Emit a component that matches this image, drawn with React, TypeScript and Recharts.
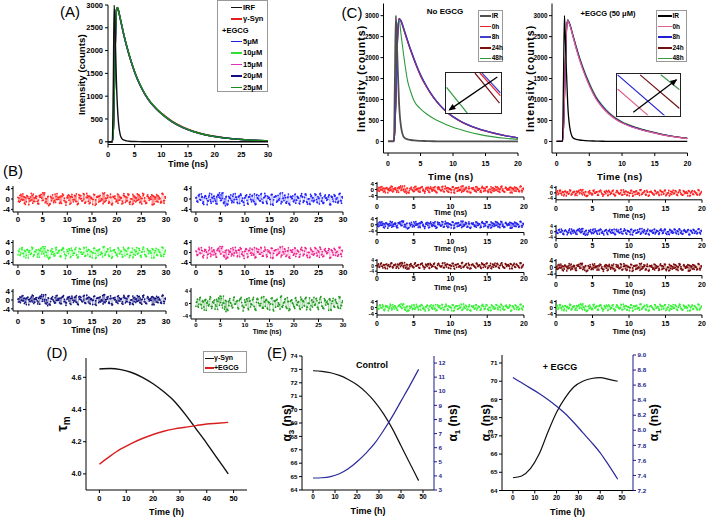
import React from 'react';
import { LineChart, Line, XAxis, YAxis, Label } from 'recharts';

const SANS = '"Liberation Sans", Arial, sans-serif';
const NARROW = '"Liberation Sans Narrow", "Liberation Sans", Arial, sans-serif';

// ---- (A) decay curves, time in ns ----
const tA = [0, 0.8, 1.0, 1.15, 1.3, 1.45, 1.6, 1.8, 2.0, 2.3, 2.6, 3, 3.5, 4, 5, 6, 7, 8, 9, 10, 12, 14, 16, 18, 20, 22, 25, 28, 30];
const irfA = [0, 0, 1300, 3000, 2600, 1900, 1250, 700, 380, 150, 70, 35, 20, 12, 6, 3, 0, 0, 0, 0, 0, 0, 0, 0, 0, 0, 0, 0, 0];
const synA = [0, 0, 250, 900, 1800, 2500, 2900, 2940, 2860, 2700, 2540, 2330, 2100, 1890, 1530, 1250, 1030, 860, 730, 632, 452, 325, 233, 166, 120, 85, 52, 31, 23];
const egcg5 = [0, 0, 240, 880, 1780, 2490, 2890, 2935, 2855, 2695, 2530, 2320, 2090, 1880, 1520, 1240, 1025, 855, 725, 615, 437, 312, 222, 158, 113, 80, 49, 30, 21];
const egcg10 = [0, 0, 260, 910, 1810, 2510, 2905, 2945, 2865, 2705, 2545, 2335, 2105, 1895, 1535, 1255, 1035, 865, 735, 622, 442, 317, 226, 161, 116, 83, 51, 31, 22];
const egcg15 = [0, 0, 245, 890, 1790, 2495, 2895, 2938, 2858, 2698, 2535, 2325, 2095, 1885, 1525, 1245, 1028, 858, 728, 618, 438, 313, 224, 159, 114, 81, 50, 30, 21];
const egcg20 = [0, 0, 255, 905, 1805, 2505, 2902, 2942, 2862, 2702, 2542, 2332, 2102, 1892, 1532, 1252, 1032, 862, 732, 620, 440, 315, 225, 160, 115, 82, 50, 30, 22];
const egcg25 = [0, 0, 265, 920, 1820, 2515, 2910, 2948, 2868, 2708, 2548, 2338, 2108, 1898, 1538, 1258, 1037, 866, 735, 623, 442, 316, 225, 160, 114, 81, 49, 29, 21];

// ---- (C) decay curves, time in ns ----
const tC = [0, 0.9, 1.05, 1.2, 1.35, 1.5, 1.7, 2.0, 2.5, 3, 3.5, 4, 5, 6, 7, 8, 9, 10, 11, 12, 14, 16, 18, 20];
const irC = [0, 0, 1400, 3000, 2400, 1700, 900, 350, 90, 50, 35, 25, 15, 10, 5, 3, 0, 0, 0, 0, 0, 0, 0, 0];
const noE0 = [0, 0, 300, 1000, 1900, 2600, 2930, 2870, 2640, 2400, 2170, 1960, 1580, 1290, 1050, 860, 710, 590, 495, 415, 295, 210, 140, 85];
const noE8 = [0, 0, 290, 980, 1880, 2590, 2925, 2880, 2655, 2415, 2185, 1975, 1595, 1300, 1060, 868, 716, 596, 500, 419, 298, 212, 142, 86];
const noE24 = [0, 0, 310, 1010, 1910, 2610, 2935, 2860, 2630, 2390, 2160, 1950, 1570, 1282, 1044, 855, 705, 586, 492, 412, 293, 208, 139, 84];
const noE48 = [0, 0, 300, 1000, 1900, 2600, 2900, 2550, 1950, 1450, 1180, 970, 780, 650, 550, 470, 400, 340, 290, 245, 170, 115, 75, 50];
const wE0 = [0, 0, 300, 1000, 1900, 2600, 2880, 2780, 2500, 2210, 1950, 1720, 1330, 1020, 810, 650, 530, 440, 375, 320, 235, 165, 110, 70];
const wE8 = [0, 0, 290, 990, 1890, 2590, 2890, 2795, 2520, 2235, 1975, 1745, 1355, 1040, 828, 665, 543, 452, 385, 329, 241, 170, 113, 72];
const wE24 = [0, 0, 310, 1010, 1910, 2610, 2895, 2800, 2525, 2240, 1980, 1750, 1360, 1045, 832, 668, 546, 454, 387, 331, 243, 171, 114, 73];
const wE48 = [0, 0, 300, 1000, 1900, 2600, 2905, 2815, 2550, 2270, 2015, 1790, 1400, 1080, 862, 694, 568, 473, 404, 346, 254, 179, 119, 76];

// inset zoom of the C curves (unit box)
const insLeft = {
  h48: [{ x: 0.01, y: 0.64 }, { x: 0.39, y: 0 }],
  h24: [{ x: 0.53, y: 1 }, { x: 0.98, y: 0.25 }],
  h0: [{ x: 0.62, y: 1 }, { x: 1, y: 0.43 }],
  h8: [{ x: 0.66, y: 1 }, { x: 1, y: 0.5 }],
  arrow: [{ x: 0.94, y: 0.9 }, { x: 0.06, y: 0.08 }],
};
const insRight = {
  h0: [{ x: 0.01, y: 0.64 }, { x: 0.5, y: 0 }],
  h8: [{ x: 0.01, y: 0.98 }, { x: 0.76, y: 0 }],
  h24: [{ x: 0.37, y: 0.98 }, { x: 1, y: 0.17 }],
  h48: [{ x: 0.7, y: 0.98 }, { x: 1, y: 0.62 }],
  arrow: [{ x: 0.26, y: 0.08 }, { x: 0.95, y: 0.86 }],
};

// ---- weighted residuals (read by eye) ----
const noiseA = [0.6, -1.2, 1.8, -0.4, 0.9, -2.1, 1.3, 0.2, -0.8, 2.2, -1.6, 0.4, 1.1, -0.9, -1.9, 1.5, 0.3, -0.5, 2.4, -1.1,
  0.8, -2.3, 1.0, 0.1, -1.4, 1.9, -0.2, 0.7, -1.7, 1.2, 2.0, -0.6, -1.3, 0.5, 1.6, -2.0, 0.9, -0.3, 1.4, -1.0,
  -2.2, 1.7, 0.0, -0.7, 2.1, -1.5, 0.6, 1.3, -1.8, 0.4, -0.1, 1.8, -2.4, 0.8, 1.1, -0.9, -0.4, 2.3, -1.2, 0.3,
  1.5, -1.6, 0.7, -2.0, 1.0, 0.2, -1.1, 1.9, -0.5, 0.6, -1.9, 1.4, 0.9, -0.8, 2.0, -1.3, 0.1, -2.1, 1.2, 0.5,
  -0.6, 1.7, -1.4, 0.3, 2.2, -0.9, -1.7, 1.1, 0.4, -0.2, 1.6, -2.2, 0.8, -1.0, 1.3, 0.0, -1.5, 2.1, -0.7, 0.9];
const noiseB = [-0.9, 1.4, -0.2, 2.0, -1.6, 0.5, 1.1, -2.2, 0.8, -0.3, 1.9, -1.0, 0.2, -1.8, 1.3, 0.7, -0.6, 2.3, -1.4, 0.1,
  1.0, -2.0, 0.6, 1.6, -0.8, -1.3, 2.1, -0.1, 0.9, -1.7, 1.5, 0.3, -2.4, 1.2, -0.5, 0.8, 1.8, -1.1, -0.4, 2.0,
  -1.9, 0.4, 1.3, -0.7, 0.0, -1.5, 2.2, -0.9, 1.1, 0.6, -2.1, 1.7, -0.3, 0.9, -1.2, 1.4, 0.2, -1.8, 2.4, -0.6,
  0.5, -1.0, 1.9, -2.3, 0.7, 1.2, -0.4, -1.6, 1.0, 0.3, -0.8, 2.1, -1.3, 0.6, 1.5, -2.0, 0.1, 1.8, -0.7, -1.1,
  2.0, -0.2, 0.9, -1.9, 1.3, 0.4, -1.4, 1.6, -0.5, 0.8, -2.2, 1.1, 0.0, 1.7, -1.2, 0.5, -0.9, 2.2, -1.6, 0.3];
const noiseC = [0.4, -0.8, 1.2, -0.3, 0.7, -1.1, 0.9, 0.2, -0.6, 1.4, -0.9, 0.5, 1.0, -0.4, 0.8, 1.8, 2.4, 1.6, 0.2, -1.8,
  -2.6, -1.9, -0.7, 0.3, -0.5, 1.1, -0.2, 0.6, -1.3, 0.9, 1.5, -0.8, -1.2, 0.4, 1.3, -1.6, 0.7, -0.1, 1.2, -0.9,
  -1.7, 1.4, 0.2, -0.6, 1.8, -1.2, 0.5, 1.0, -1.5, 0.3, -0.2, 1.6, -2.0, 0.7, 1.1, -0.8, -0.3, 2.0, -1.0, 0.2,
  1.3, -1.4, 0.6, -1.7, 0.9, 0.1, -0.9, 1.7, -0.4, 0.5, -1.6, 1.2, 0.8, -0.7, 1.8, -1.1, 0.0, -1.8, 1.0, 0.4,
  -0.5, 1.5, -1.2, 0.2, 1.9, -0.8, -1.5, 0.9, 0.3, -0.1, 1.4, -1.9, 0.7, -0.9, 1.1, 0.1, -1.3, 1.8, -0.6, 0.8];

// ---- (D) mean lifetime vs incubation time (h) ----
const tD = [0, 4, 8, 12, 16, 20, 24, 28, 32, 36, 40, 44, 48];
const tauSyn = [4.652, 4.655, 4.648, 4.63, 4.6, 4.56, 4.51, 4.45, 4.37, 4.28, 4.19, 4.095, 4.0];
const tauEgcg = [4.06, 4.11, 4.155, 4.19, 4.22, 4.245, 4.265, 4.28, 4.29, 4.3, 4.31, 4.315, 4.32];

// ---- (E) amplitudes ----
const a3Ctrl = [72.9, 72.85, 72.75, 72.55, 72.25, 71.85, 71.3, 70.6, 69.7, 68.6, 67.3, 66.0, 64.7];
const a1Ctrl = [3.85, 3.87, 3.95, 4.15, 4.5, 5.0, 5.6, 6.3, 7.2, 8.2, 9.3, 10.4, 11.55];
const a3Egcg = [64.7, 64.8, 65.2, 66.0, 67.2, 68.3, 69.1, 69.7, 70.0, 70.15, 70.2, 70.1, 70.0];
const a1Egcg = [8.7, 8.63, 8.56, 8.49, 8.41, 8.32, 8.22, 8.1, 7.97, 7.84, 7.7, 7.53, 7.35];

const tickNs30 = [0, 5, 10, 15, 20, 25, 30];
const tickNs20 = [0, 5, 10, 15, 20];
const tickH = [0, 10, 20, 30, 40, 50];
const tickCounts = [0, 500, 1000, 1500, 2000, 2500, 3000];

function Frame({ box, pad, data, children, rightAxis = false }: any) {
  const [pl, pt, pr, pb] = pad;
  const w = box.r - box.l + pl + pr;
  const h = box.b - box.t + pt + pb;
  return (
    <div style={{ position: 'absolute', left: box.l - pl, top: box.t - pt, width: w, height: h }}>
      <LineChart width={w} height={h} data={data} margin={{ top: pt, right: rightAxis ? 0 : pr, left: 0, bottom: 0 }}>
        {children}
      </LineChart>
    </div>
  );
}

function bottomAxis(o: any) {
  const tickMargin = o.tickY - 0.35 * o.fs - o.box.b - 3;
  const offset = o.box.b + o.pb - (o.titleY + 0.36 * o.tfs);
  return (
    <XAxis type="number" dataKey="t" domain={o.domain} ticks={o.ticks} height={o.pb} tickSize={3} tickMargin={tickMargin}
      allowDataOverflow interval={0} axisLine={{ stroke: '#000' }} tickLine={{ stroke: '#000' }}
      tick={{ fontSize: o.fs, fontWeight: 700, fill: '#000', fontFamily: o.family || SANS }}>
      <Label value={o.title} position="insideBottom" offset={offset} fontSize={o.tfs} fontWeight={700} fill="#000"
        style={{ fontSize: o.tfs, fontWeight: 700, fontFamily: SANS, letterSpacing: o.ls || 0 }} />
    </XAxis>
  );
}

function VLabel({ vb, dx, fs, ls = 0, children }: any) {
  const v = vb || { x: 0, y: 0, width: 0, height: 0 };
  const x = v.x + dx;
  const y = v.y + v.height / 2;
  return (
    <text x={x} y={y} dy="0.36em" transform={`rotate(-90 ${x} ${y})`} textAnchor="middle" fontSize={fs}
      fontWeight={700} fontFamily={SANS} fill="#000" letterSpacing={ls}>
      {children}
    </text>
  );
}

function vLabel(dx: number, fs: number, body: any, ls = 0) {
  return <Label content={(p: any) => <VLabel vb={p.viewBox} dx={dx} fs={fs} ls={ls}>{body}</VLabel>} />;
}

function Resid({ box, xMin, xMax, ticks, tickY, titleY, fs, yfs, tfs, color, n, family }: any) {
  const len = n[0].length;
  const step = xMax / (len - 0.34);
  const rows: any[] = [];
  for (let i = 0; i < len; i++) {
    n.forEach((arr: number[], k: number) => rows.push({ t: i * step + (k * step) / n.length, r: arr[i] }));
  }
  const pl = 12;
  const pb = titleY + 0.36 * tfs + 2.5 - box.b;
  return (
    <Frame box={box} pad={[pl, 3, 5, pb]} data={rows}>
      {bottomAxis({ box, pb, domain: [xMin, xMax], ticks, fs, tickY, title: 'Time (ns)', titleY, tfs, family })}
      <YAxis type="number" domain={[-5, 5]} ticks={[-4, 0, 4]} width={pl} tickSize={2} tickMargin={1} interval={0}
        allowDataOverflow axisLine={{ stroke: '#000' }} tickLine={{ stroke: '#000' }}
        tick={{ fontSize: yfs || fs, fontWeight: 700, fill: '#000', fontFamily: family }} />
      <Line type="linear" dataKey="r" stroke={color} strokeWidth={0.45} strokeOpacity={0.7}
        dot={{ r: 0.85, fill: color, stroke: 'none' }} activeDot={false} isAnimationActive={false} />
    </Frame>
  );
}

const residB = [
  { box: { l: 13, t: 186, r: 166, b: 212 }, tickY: 219, titleY: 230, color: '#ff2222', n: [noiseA, noiseB, noiseC], fs: 8, tfs: 8.3 },
  { box: { l: 191, t: 186, r: 343, b: 212 }, tickY: 219, titleY: 230, color: '#2222ff', n: [noiseC, noiseA, noiseB], fs: 8, tfs: 8.3 },
  { box: { l: 13, t: 239.5, r: 166, b: 264.5 }, tickY: 272, titleY: 282, color: '#2df52d', n: [noiseB, noiseA, noiseC], fs: 8, tfs: 8.3 },
  { box: { l: 191, t: 239.5, r: 343, b: 264.5 }, tickY: 272, titleY: 282, color: '#f0208c', n: [noiseA, noiseC, noiseB], fs: 8, tfs: 8.3 },
  { box: { l: 13, t: 289, r: 166, b: 311 }, tickY: 321, titleY: 330.5, color: '#12127e', n: [noiseC, noiseB, noiseA], fs: 8, tfs: 8.3 },
  { box: { l: 191, t: 288, r: 343, b: 319 }, tickY: 325, titleY: 332, color: '#229a22', n: [noiseB, noiseC, noiseA], fs: 6, tfs: 6.5 },
];

const residC = [
  { box: { l: 377, t: 181.5, r: 524, b: 196.5 }, tickY: 205.5, titleY: 212, color: '#ff2222', n: [noiseC, noiseB, noiseA], yfs: 6.2 },
  { box: { l: 377, t: 217, r: 524, b: 232.5 }, tickY: 241, titleY: 248, color: '#2222ee', n: [noiseA, noiseB, noiseC], yfs: 6.2 },
  { box: { l: 377, t: 259, r: 524, b: 272.5 }, tickY: 279, titleY: 287.5, color: '#7a0a0a', n: [noiseB, noiseC, noiseA], yfs: 5 },
  { box: { l: 377, t: 300, r: 524, b: 315 }, tickY: 323, titleY: 331.5, color: '#38f038', n: [noiseA, noiseC, noiseB], yfs: 6.2 },
  { box: { l: 556, t: 185.6, r: 702, b: 199.4 }, tickY: 208, titleY: 215, color: '#ff2222', n: [noiseB, noiseA, noiseC], yfs: 5.8 },
  { box: { l: 556, t: 225, r: 702, b: 238.5 }, tickY: 245.5, titleY: 255, color: '#2222ee', n: [noiseC, noiseA, noiseB], yfs: 5.2 },
  { box: { l: 556, t: 259.4, r: 702, b: 276 }, tickY: 284.5, titleY: 291.5, color: '#7a0a0a', n: [noiseA, noiseB, noiseC], yfs: 6.4 },
  { box: { l: 556, t: 300, r: 702, b: 315 }, tickY: 323, titleY: 331.5, color: '#38f038', n: [noiseB, noiseA, noiseC], yfs: 6.2 },
];

function arrowHead(p: any) {
  const { index, points, cx, cy } = p;
  if (!points || index !== points.length - 1) return <g key={`d${index}`} />;
  const prev = points[index - 1];
  const ang = (Math.atan2(cy - prev.y, cx - prev.x) * 180) / Math.PI;
  return <polygon key="head" points="1,0 -6,-3 -6,3" transform={`translate(${cx},${cy}) rotate(${ang})`} fill="#000" />;
}

function Inset({ box, lines, colors }: any) {
  const w = box.r - box.l;
  const h = box.b - box.t;
  return (
    <div style={{ position: 'absolute', left: box.l, top: box.t, width: w, height: h, border: '1.2px solid #222', boxSizing: 'border-box', background: '#fff' }}>
      <LineChart width={w - 2.4} height={h - 2.4} margin={{ top: 0, right: 0, left: 0, bottom: 0 }}>
        <XAxis type="number" dataKey="x" domain={[0, 1]} hide allowDataOverflow />
        <YAxis type="number" domain={[0, 1]} hide allowDataOverflow />
        {['h0', 'h8', 'h24', 'h48'].map((k) => (
          <Line key={k} data={lines[k]} dataKey="y" stroke={colors[k]} strokeWidth={1.2} dot={false} isAnimationActive={false} />
        ))}
        <Line data={lines.arrow} dataKey="y" stroke="#000" strokeWidth={1.3} dot={arrowHead} isAnimationActive={false} />
      </LineChart>
    </div>
  );
}

function LegendBox({ left, top, width, height, rows, fs, rowTop, rowH, lineX, lineW, textX, family }: any) {
  return (
    <div style={{ position: 'absolute', left, top, width, height, border: '1px solid #999', boxSizing: 'border-box', background: '#fff' }}>
      {rows.map((r: any, i: number) => {
        const cy = rowTop + i * rowH;
        return (
          <React.Fragment key={r.label}>
            {r.color && (
              <div style={{ position: 'absolute', left: lineX, top: cy - (r.w || 1.5) / 2, width: lineW, height: r.w || 1.5, background: r.color }} />
            )}
            <div style={{ position: 'absolute', left: r.color ? textX : 4, top: cy - fs * 0.62, fontSize: fs, lineHeight: `${fs * 1.2}px`, fontWeight: 700, fontFamily: family || SANS, whiteSpace: 'nowrap', color: '#000' }}>
              {r.label}
            </div>
          </React.Fragment>
        );
      })}
    </div>
  );
}

function Text({ x, y, fs, children, bold = true, family = SANS, color = '#000' }: any) {
  return (
    <div style={{ position: 'absolute', left: x, top: y, transform: 'translate(-50%, -50%)', fontSize: fs, fontWeight: bold ? 700 : 400, fontFamily: family, whiteSpace: 'nowrap', color, lineHeight: 1 }}>
      {children}
    </div>
  );
}

function DecayC({ box, pad, rows, series, labelDx }: any) {
  return (
    <Frame box={box} pad={pad} data={rows}>
      {bottomAxis({ box, pb: pad[3], domain: [-0.7, 20], ticks: tickNs20, fs: 7, tickY: 163, title: 'Time (ns)', titleY: 177, tfs: 9.5, family: NARROW, ls: 0.4 })}
      <YAxis type="number" domain={[-275, 3290]} ticks={tickCounts} width={pad[0]} tickSize={3} tickMargin={1.5} interval={0}
        allowDataOverflow axisLine={{ stroke: '#000' }} tickLine={{ stroke: '#000' }}
        tick={{ fontSize: 6.3, fontWeight: 700, fill: '#000', fontFamily: NARROW }}>
        {vLabel(labelDx, 10.5, 'Intensity (counts)', 1.1)}
      </YAxis>
      {series.map((s: any) => (
        <Line key={s.key} type="monotone" dataKey={s.key} stroke={s.color} strokeWidth={s.w} dot={false} isAnimationActive={false} />
      ))}
    </Frame>
  );
}

function topFrameAxis() {
  return <XAxis xAxisId="top" orientation="top" type="number" domain={[-5, 55]} ticks={tickH} height={0} tick={false} tickSize={3} axisLine={{ stroke: '#000' }} tickLine={{ stroke: '#000' }} />;
}

function PanelE({ box, pad, rows, left, right, lDx, rDx }: any) {
  const navy = '#1c1c8c';
  return (
    <Frame box={box} pad={pad} data={rows} rightAxis>
      {bottomAxis({ box, pb: pad[3], domain: [-5, 55], ticks: tickH, fs: 6.5, tickY: 497, title: 'Time (h)', titleY: 511, tfs: 9, family: NARROW })}
      {topFrameAxis()}
      <YAxis yAxisId="l" type="number" domain={left.domain} ticks={left.ticks} width={pad[0]} tickSize={3} tickMargin={1.5} interval={0}
        allowDataOverflow axisLine={{ stroke: '#000' }} tickLine={{ stroke: '#000' }}
        tick={{ fontSize: 6.2, fontWeight: 700, fill: '#000', fontFamily: NARROW }}>
        {vLabel(lDx, 12, [<tspan key="a">α</tspan>, <tspan key="s" fontSize={8} dy={3}>3</tspan>, <tspan key="n" dy={-3}> (ns)</tspan>])}
      </YAxis>
      <YAxis yAxisId="r" orientation="right" type="number" domain={right.domain} ticks={right.ticks} width={pad[2]} tickSize={3} tickMargin={1.5} interval={0}
        allowDataOverflow axisLine={{ stroke: navy }} tickLine={{ stroke: navy }} tickFormatter={right.fmt}
        tick={{ fontSize: 6.2, fontWeight: 700, fill: navy, fontFamily: NARROW }}>
        {vLabel(rDx, 12, [<tspan key="a">α</tspan>, <tspan key="s" fontSize={8} dy={3}>1</tspan>, <tspan key="n" dy={-3}> (ns)</tspan>])}
      </YAxis>
      <Line yAxisId="l" type="monotone" dataKey="a3" stroke="#111" strokeWidth={1.2} dot={false} isAnimationActive={false} />
      <Line yAxisId="r" type="monotone" dataKey="a1" stroke="#2a2a9a" strokeWidth={1.2} dot={false} isAnimationActive={false} />
    </Frame>
  );
}

export default function App() {
  const rowsA = tA.map((t, i) => ({ t, irf: irfA[i], syn: synA[i], c5: egcg5[i], c10: egcg10[i], c15: egcg15[i], c20: egcg20[i], c25: egcg25[i] }));
  const rowsCL = tC.map((t, i) => ({ t, ir: irC[i], h0: noE0[i], h8: noE8[i], h24: noE24[i], h48: noE48[i] }));
  const rowsCR = tC.map((t, i) => ({ t, ir: irC[i], h0: wE0[i], h8: wE8[i], h24: wE24[i], h48: wE48[i] }));
  const rowsD = tD.map((t, i) => ({ t, syn: tauSyn[i], egcg: tauEgcg[i] }));
  const rowsE1 = tD.map((t, i) => ({ t, a3: a3Ctrl[i], a1: a1Ctrl[i] }));
  const rowsE2 = tD.map((t, i) => ({ t, a3: a3Egcg[i], a1: a1Egcg[i] }));

  const boxA = { l: 108, t: 5, r: 268, b: 144.5 };
  const boxD = { l: 86, t: 358, r: 247, b: 490 };
  const boxCL = { l: 383.5, t: 3.5, r: 518, b: 153 };
  const boxCR = { l: 552, t: 3.5, r: 687.5, b: 153 };

  const colA: any = { irf: '#111', syn: '#e02020', c5: '#2020e0', c10: '#33dd33', c15: '#e030c0', c20: '#101080', c25: '#1a8a1a' };
  const colCL: any = { ir: '#505050', h0: '#e8202a', h8: '#4040c8', h24: '#7a1010', h48: '#2e9a3e' };
  const colCR: any = { ir: '#000', h0: '#e0608c', h8: '#2020d0', h24: '#701010', h48: '#3c9a4a' };

  return (
    <div style={{ position: 'absolute', left: 0, top: 0, width: 709, height: 519, background: '#fff', fontFamily: SANS, overflow: 'hidden' }}>
      {/* (A) */}
      <Frame box={boxA} pad={[38, 5, 6, 26]} data={rowsA}>
        {bottomAxis({ box: boxA, pb: 26, domain: [0, 30], ticks: tickNs30, fs: 7.5, tickY: 154, title: 'Time (ns)', titleY: 164, tfs: 9 })}
        <YAxis type="number" domain={[-60, 3000]} ticks={tickCounts} width={38} tickSize={3} tickMargin={2} interval={0}
          allowDataOverflow axisLine={{ stroke: '#000' }} tickLine={{ stroke: '#000' }}
          tick={{ fontSize: 7.5, fontWeight: 700, fill: '#000', fontFamily: SANS }}>
          {vLabel(12, 9.7, 'Intensity (counts)')}
        </YAxis>
        {['syn', 'c5', 'c10', 'c15', 'c20', 'c25', 'irf'].map((k) => (
          <Line key={k} type="monotone" dataKey={k} stroke={colA[k]} strokeWidth={1.4} dot={false} isAnimationActive={false} />
        ))}
      </Frame>

      {/* (B) residuals */}
      {residB.map((r, i) => (
        <Resid key={`b${i}`} box={r.box} xMin={-1} xMax={30} ticks={tickNs30} tickY={r.tickY} titleY={r.titleY} fs={r.fs} tfs={r.tfs} color={r.color} n={r.n} family={SANS} />
      ))}

      {/* (C) decays */}
      <DecayC box={boxCL} pad={[28.5, 3.5, 4, 30]} rows={rowsCL} labelDx={6.5}
        series={[
          { key: 'h48', color: colCL.h48, w: 1.1 },
          { key: 'h24', color: colCL.h24, w: 1.3 },
          { key: 'h0', color: colCL.h0, w: 1.3 },
          { key: 'h8', color: colCL.h8, w: 1.3 },
          { key: 'ir', color: colCL.ir, w: 1.8 },
        ]} />
      <DecayC box={boxCR} pad={[30, 3.5, 4, 30]} rows={rowsCR} labelDx={8}
        series={[
          { key: 'h48', color: colCR.h48, w: 1.1 },
          { key: 'h24', color: colCR.h24, w: 1.2 },
          { key: 'h8', color: colCR.h8, w: 1.2 },
          { key: 'h0', color: colCR.h0, w: 1.2 },
          { key: 'ir', color: colCR.ir, w: 1.3 },
        ]} />
      <Inset box={{ l: 445, t: 71.5, r: 502, b: 114 }} lines={insLeft} colors={colCL} />
      <Inset box={{ l: 616, t: 73.3, r: 681, b: 117.3 }} lines={insRight} colors={colCR} />

      {/* (C) residuals */}
      {residC.map((r, i) => (
        <Resid key={`c${i}`} box={r.box} xMin={0} xMax={20} ticks={tickNs20} tickY={r.tickY} titleY={r.titleY} fs={7} yfs={r.yfs} tfs={7.5} color={r.color} n={r.n} family={NARROW} />
      ))}

      {/* (D) */}
      <Frame box={boxD} pad={[36, 4, 6, 29]} data={rowsD}>
        {bottomAxis({ box: boxD, pb: 29, domain: [-5, 55], ticks: tickH, fs: 7.5, tickY: 498, title: 'Time (h)', titleY: 512, tfs: 9 })}
        <YAxis type="number" domain={[3.9, 4.72]} ticks={[4.0, 4.2, 4.4, 4.6]} width={36} tickSize={3} tickMargin={1.5} interval={0}
          allowDataOverflow axisLine={{ stroke: '#000' }} tickLine={{ stroke: '#000' }} tickFormatter={(v: number) => v.toFixed(1)}
          tick={{ fontSize: 7.2, fontWeight: 700, fill: '#000', fontFamily: NARROW }}>
          {vLabel(12, 14, [<tspan key="t">τ</tspan>, <tspan key="m" fontSize={10} dy={3}>m</tspan>])}
        </YAxis>
        <Line type="monotone" dataKey="syn" stroke="#111" strokeWidth={1.4} dot={false} isAnimationActive={false} />
        <Line type="monotone" dataKey="egcg" stroke="#d81f1f" strokeWidth={1.4} dot={false} isAnimationActive={false} />
      </Frame>

      {/* (E) */}
      <PanelE box={{ l: 302, t: 356, r: 434, b: 490 }} pad={[24, 4, 29, 29]} rows={rowsE1} lDx={9} rDx={19}
        left={{ domain: [64, 74], ticks: [64, 65, 66, 67, 68, 69, 70, 71, 72, 73, 74] }}
        right={{ domain: [3, 12.5], ticks: [3, 4, 5, 6, 7, 8, 9, 10, 11, 12], fmt: (v: number) => String(v) }} />
      <PanelE box={{ l: 502, t: 354.5, r: 633, b: 490 }} pad={[25, 4, 31, 29]} rows={rowsE2} lDx={9} rDx={21}
        left={{ domain: [64, 71.44], ticks: [64, 65, 66, 67, 68, 69, 70, 71] }}
        right={{ domain: [7.2, 9.0], ticks: [7.2, 7.4, 7.6, 7.8, 8.0, 8.2, 8.4, 8.6, 8.8, 9.0], fmt: (v: number) => v.toFixed(1) }} />

      {/* legends */}
      <LegendBox left={217} top={0} width={51} height={92} fs={7.5} rowTop={6.5} rowH={11.4} lineX={13} lineW={11} textX={25}
        rows={[
          { label: 'IRF', color: colA.irf },
          { label: 'γ-Syn', color: colA.syn },
          { label: '+EGCG' },
          { label: '5μM', color: colA.c5 },
          { label: '10μM', color: colA.c10 },
          { label: '15μM', color: colA.c15 },
          { label: '20μM', color: colA.c20 },
          { label: '25μM', color: colA.c25 },
        ]} />
      <LegendBox left={477.7} top={9.5} width={25.6} height={52.5} fs={6.5} rowTop={5.5} rowH={10.6} lineX={1} lineW={11} textX={13} family={NARROW}
        rows={[
          { label: 'IR', color: colCL.ir, w: 2.5 },
          { label: '0h', color: colCL.h0 },
          { label: '8h', color: colCL.h8, w: 2 },
          { label: '24h', color: colCL.h24 },
          { label: '48h', color: colCL.h48 },
        ]} />
      <LegendBox left={656} top={9.5} width={31} height={52.5} fs={6.5} rowTop={5.5} rowH={10.6} lineX={1} lineW={13.5} textX={15.5} family={NARROW}
        rows={[
          { label: 'IR', color: colCR.ir },
          { label: '0h', color: colCR.h0 },
          { label: '8h', color: colCR.h8 },
          { label: '24h', color: colCR.h24 },
          { label: '48h', color: colCR.h48 },
        ]} />
      <LegendBox left={203} top={351} width={44} height={21.5} fs={7} rowTop={6.5} rowH={9.6} lineX={0.5} lineW={9} textX={10}
        rows={[
          { label: 'γ-Syn', color: '#111' },
          { label: '+EGCG', color: '#d81f1f' },
        ]} />

      {/* annotations */}
      <Text x={445} y={12} fs={8} family={NARROW}>No EGCG</Text>
      <Text x={608} y={14} fs={7.5} family={NARROW}>+EGCG (50 μM)</Text>
      <Text x={372} y={365} fs={9} family={NARROW}>Control</Text>
      <Text x={560} y={367} fs={9} family={NARROW}>+ EGCG</Text>

      {/* panel letters */}
      <Text x={70} y={11} fs={15} bold={false}>(A)</Text>
      <Text x={13} y={170} fs={15} bold={false}>(B)</Text>
      <Text x={352} y={12} fs={15} bold={false}>(C)</Text>
      <Text x={57} y={352} fs={15} bold={false}>(D)</Text>
      <Text x={277} y={352} fs={15} bold={false}>(E)</Text>
    </div>
  );
}
